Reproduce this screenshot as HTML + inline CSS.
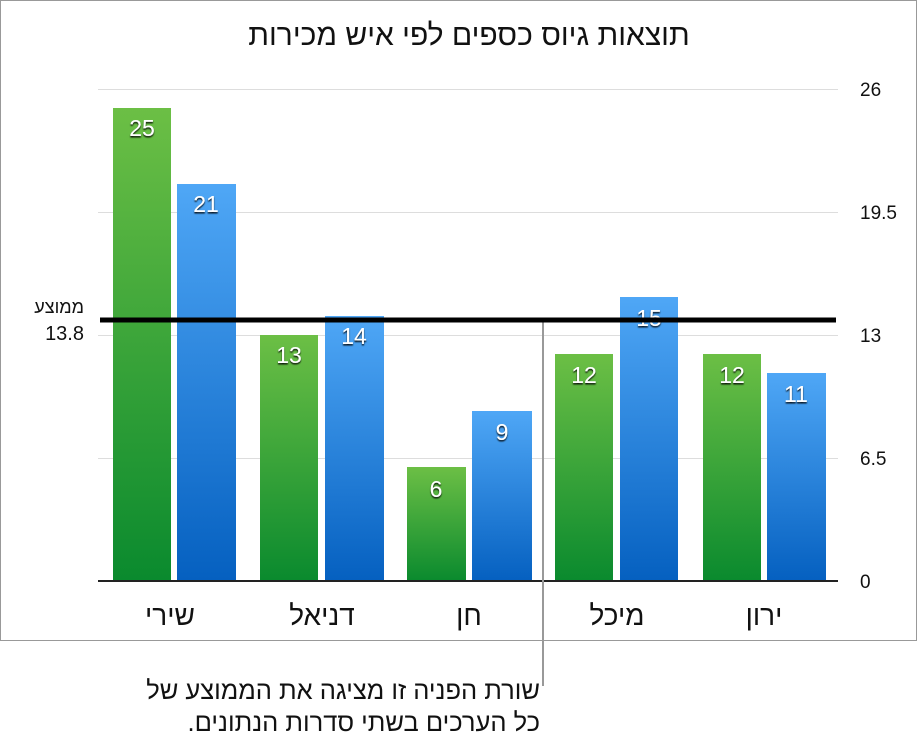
<!DOCTYPE html>
<html><head><meta charset="utf-8"><style>
html,body{margin:0;padding:0;background:#fff;}
svg{display:block;}
text{font-family:"Liberation Sans","Noto Sans CJK SC",sans-serif;}
</style></head><body>
<svg width="918" height="745" viewBox="0 0 918 745" xmlns="http://www.w3.org/2000/svg">
<defs>
<linearGradient id="g" x1="0" y1="0" x2="0" y2="1"><stop offset="0" stop-color="#6cbf45"/><stop offset="1" stop-color="#0a8a2e"/></linearGradient>
<linearGradient id="b" x1="0" y1="0" x2="0" y2="1"><stop offset="0" stop-color="#4fa7f6"/><stop offset="1" stop-color="#0560c0"/></linearGradient>
<filter id="sh"><feDropShadow dx="0" dy="1.5" stdDeviation="0.8" flood-color="#000" flood-opacity="0.9"/></filter>
</defs>
<rect x="0.5" y="0.5" width="916" height="640" fill="#fff" stroke="#999" stroke-width="1"/>
<text x="469" y="45" font-size="30" text-anchor="middle" direction="rtl" fill="#111">תוצאות גיוס כספים לפי איש מכירות</text>
<g stroke="#ddd" stroke-width="1">
<line x1="98" y1="89.5" x2="838" y2="89.5"/>
<line x1="98" y1="212.5" x2="838" y2="212.5"/>
<line x1="98" y1="335.5" x2="838" y2="335.5"/>
<line x1="98" y1="458.5" x2="838" y2="458.5"/>
</g>
<g font-size="19" fill="#111">
<text x="860" y="96">26</text>
<text x="860" y="219">19.5</text>
<text x="860" y="342">13</text>
<text x="860" y="465">6.5</text>
<text x="860" y="588">0</text>
</g>
<g>
<rect x="113" y="108" width="58" height="473" fill="url(#g)"/>
<rect x="177" y="184" width="59" height="397" fill="url(#b)"/>
<rect x="260" y="335" width="58" height="246" fill="url(#g)"/>
<rect x="325" y="316" width="59" height="265" fill="url(#b)"/>
<rect x="407" y="467" width="59" height="114" fill="url(#g)"/>
<rect x="472" y="411" width="60" height="170" fill="url(#b)"/>
<rect x="555" y="354" width="58" height="227" fill="url(#g)"/>
<rect x="620" y="297" width="58" height="284" fill="url(#b)"/>
<rect x="703" y="354" width="58" height="227" fill="url(#g)"/>
<rect x="767" y="373" width="59" height="208" fill="url(#b)"/>
</g>
<g font-size="23" fill="#fff" text-anchor="middle" filter="url(#sh)">
<text x="142" y="136">25</text>
<text x="206" y="212">21</text>
<text x="289" y="363">13</text>
<text x="354" y="344">14</text>
<text x="436" y="497">6</text>
<text x="502" y="440">9</text>
<text x="584" y="383">12</text>
<text x="649" y="326">15</text>
<text x="732" y="383">12</text>
<text x="796" y="402">11</text>
</g>
<line x1="98" y1="581" x2="838" y2="581" stroke="#222" stroke-width="2"/>
<line x1="543" y1="322" x2="543" y2="686" stroke="#999" stroke-width="2"/>
<line x1="100" y1="320" x2="836" y2="320" stroke="#000" stroke-width="5"/>
<text x="84" y="313" font-size="18" fill="#111" text-anchor="start" direction="rtl">ממוצע</text>
<text x="84" y="340" font-size="20" fill="#111" text-anchor="end">13.8</text>
<g font-size="28" fill="#111" text-anchor="middle" direction="rtl">
<text x="170" y="625">שירי</text>
<text x="322" y="625">דניאל</text>
<text x="469" y="625">חן</text>
<text x="617" y="625">מיכל</text>
<text x="764" y="625">ירון</text>
</g>
<g font-size="25.5" fill="#111" text-anchor="start" direction="rtl">
<text x="540" y="699">שורת הפניה זו מציגה את הממוצע של</text>
<text x="540" y="731">כל הערכים בשתי סדרות הנתונים.</text>
</g>
</svg>
</body></html>
